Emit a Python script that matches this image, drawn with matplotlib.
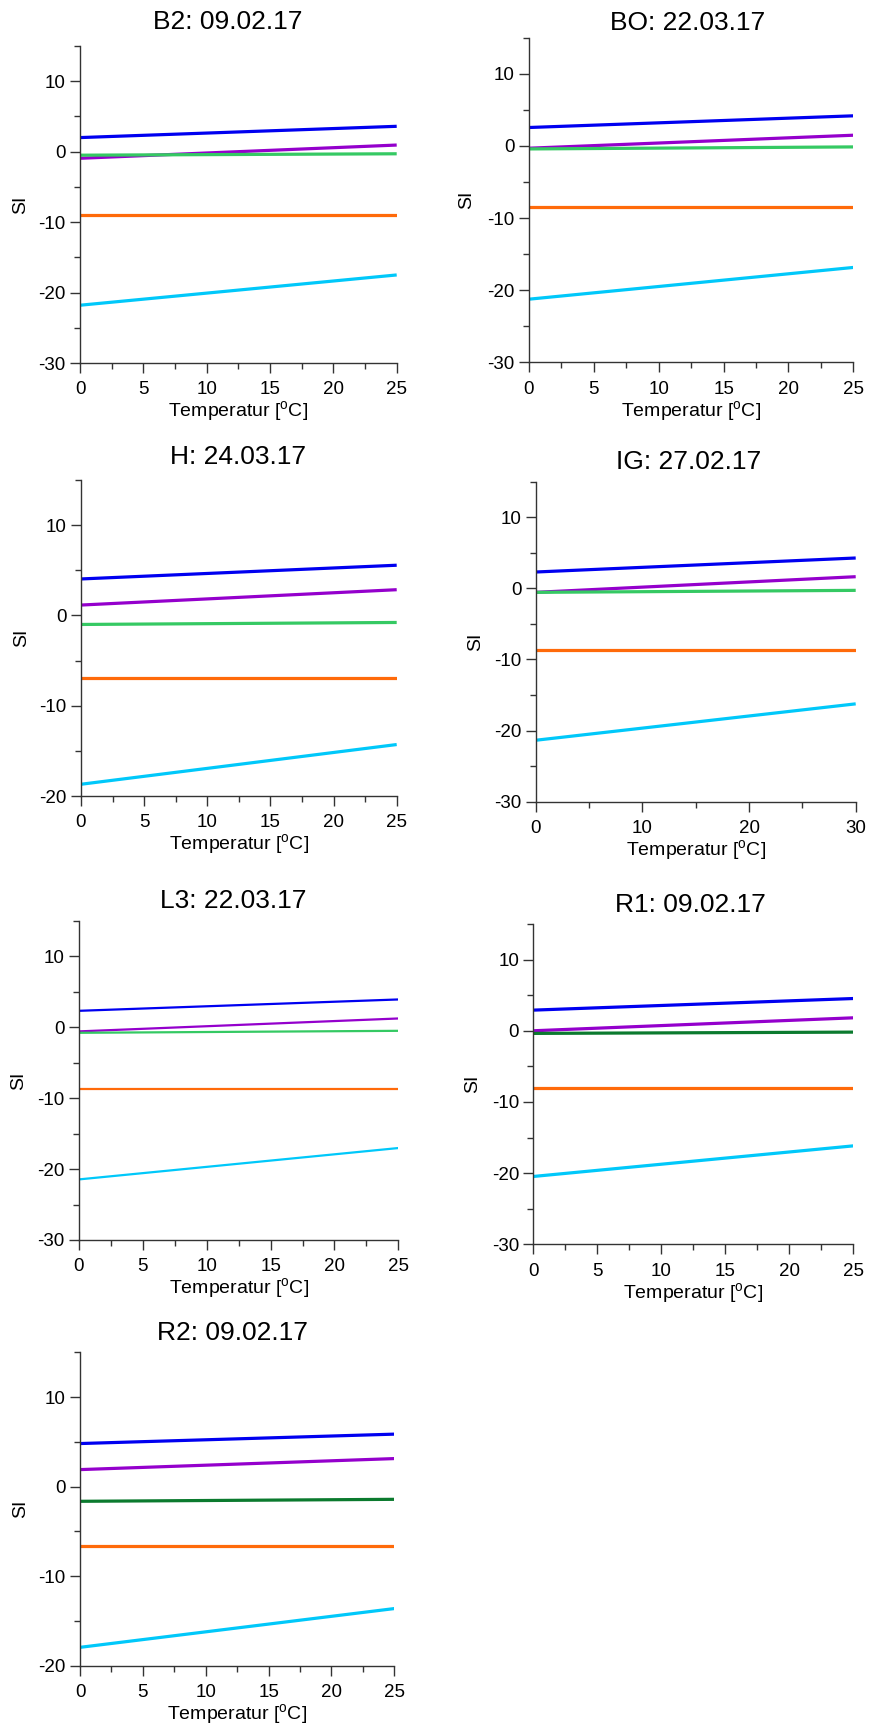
import matplotlib
matplotlib.use("Agg")
import matplotlib.pyplot as plt
from matplotlib.ticker import MultipleLocator

plt.rcParams["font.family"] = ["Liberation Sans", "DejaVu Sans"]
plt.rcParams["mathtext.fontset"] = "custom"
plt.rcParams["mathtext.rm"] = "Liberation Sans"
plt.rcParams["axes.unicode_minus"] = False

# Sampling sites and dates
titles = ["B2: 09.02.17", "BO: 22.03.17", "H: 24.03.17", "IG: 27.02.17",
          "L3: 22.03.17", "R1: 09.02.17", "R2: 09.02.17"]

# Temperature range [°C] of each panel (start, end)
temp_range = [(0, 25), (0, 25), (0, 25), (0, 30), (0, 25), (0, 25), (0, 25)]

# Saturation index at the start and end of the temperature range
si_blue = [(2.0, 3.6), (2.55, 4.17), (4.04, 5.56), (2.3, 4.27),
           (2.3, 3.9), (2.9, 4.53), (4.81, 5.86)]
si_purple = [(-0.94, 0.94), (-0.32, 1.48), (1.15, 2.85), (-0.56, 1.64),
             (-0.6, 1.22), (0.0, 1.82), (1.9, 3.13)]
si_green = [(-0.5, -0.3), (-0.42, -0.14), (-1.0, -0.78), (-0.56, -0.28),
            (-0.8, -0.52), (-0.37, -0.19), (-1.64, -1.42)]
si_orange = [(-9.0, -9.0), (-8.5, -8.5), (-6.96, -6.96), (-8.64, -8.64),
             (-8.73, -8.73), (-8.08, -8.08), (-6.68, -6.68)]
si_cyan = [(-21.8, -17.5), (-21.25, -16.85), (-18.7, -14.3), (-21.36, -16.24),
           (-21.46, -17.04), (-20.47, -16.17), (-17.95, -13.62)]

# y-axis limits
y_limits = [(-30, 15), (-30, 15), (-20, 15), (-30, 15), (-30, 15), (-30, 15), (-20, 15)]

# colour of the green series (two shades are used)
green_colors = ["#35C963", "#35C963", "#35C963", "#35C963", "#35C963", "#0B7A2E", "#0B7A2E"]

# Layout in pixels: left, right, top, bottom of each plot area
W, H = 869, 1730
boxes = [(80, 396.7, 46, 363), (529, 853.3, 37.7, 362.3),
         (81, 396.7, 480, 796), (535.7, 855.7, 481.7, 801.7),
         (79, 398.3, 920.7, 1240), (533.3, 853.3, 924, 1244.3),
         (80, 394.3, 1352.3, 1665.7)]
title_pos = [(228, 22), (688, 23), (238, 457), (689, 462),
             (233, 901), (690, 905), (233, 1333)]
ylabel_x = [21, 467, 22, 476, 19, 473, 21]
line_w = [2.3, 2.3, 2.3, 2.3, 1.6, 2.3, 2.3]

fig = plt.figure(figsize=(W / 100, H / 100), dpi=100)
spine_col = "#333333"

for i in range(7):
    l, r, t, b = boxes[i]
    ax = fig.add_axes([l / W, 1 - b / H, (r - l) / W, (b - t) / H])
    x = list(temp_range[i])
    lw = line_w[i]
    ax.plot(x, si_blue[i], color="#0000F0", lw=lw, solid_capstyle="butt")
    ax.plot(x, si_purple[i], color="#9400CC", lw=lw, solid_capstyle="butt")
    ax.plot(x, si_green[i], color=green_colors[i], lw=lw, solid_capstyle="butt")
    ax.plot(x, si_orange[i], color="#FF6A0A", lw=lw, solid_capstyle="butt")
    ax.plot(x, si_cyan[i], color="#00C8FA", lw=lw, solid_capstyle="butt")

    ax.set_xlim(*temp_range[i])
    ax.set_ylim(*y_limits[i])
    if temp_range[i][1] == 30:
        ax.xaxis.set_major_locator(MultipleLocator(10))
        ax.xaxis.set_minor_locator(MultipleLocator(5))
    else:
        ax.xaxis.set_major_locator(MultipleLocator(5))
        ax.xaxis.set_minor_locator(MultipleLocator(2.5))
    ax.yaxis.set_major_locator(MultipleLocator(10))
    ax.yaxis.set_minor_locator(MultipleLocator(5))

    for side in ("top", "right"):
        ax.spines[side].set_visible(False)
    for side in ("left", "bottom"):
        ax.spines[side].set_color(spine_col)
        ax.spines[side].set_linewidth(1.0)

    ax.tick_params(which="major", direction="out", length=7.2, width=1.0,
                   color=spine_col, labelsize=13.5)
    ax.tick_params(which="minor", direction="out", length=4.0, width=1.0,
                   color=spine_col)
    ax.tick_params(axis="x", which="major", pad=6)
    ax.tick_params(axis="y", which="major", pad=3)

    ax.set_xlabel(r"Temperatur [$^\mathregular{o}$C]", fontsize=14, labelpad=1)
    fig.text(ylabel_x[i] / W, 1 - ((t + b) / 2) / H, "SI", rotation=90,
             ha="center", va="center", fontsize=14)
    tx, ty = title_pos[i]
    fig.text(tx / W, 1 - ty / H, titles[i], ha="center", va="center", fontsize=19)

fig.savefig("out.png", dpi=100, facecolor="white")
